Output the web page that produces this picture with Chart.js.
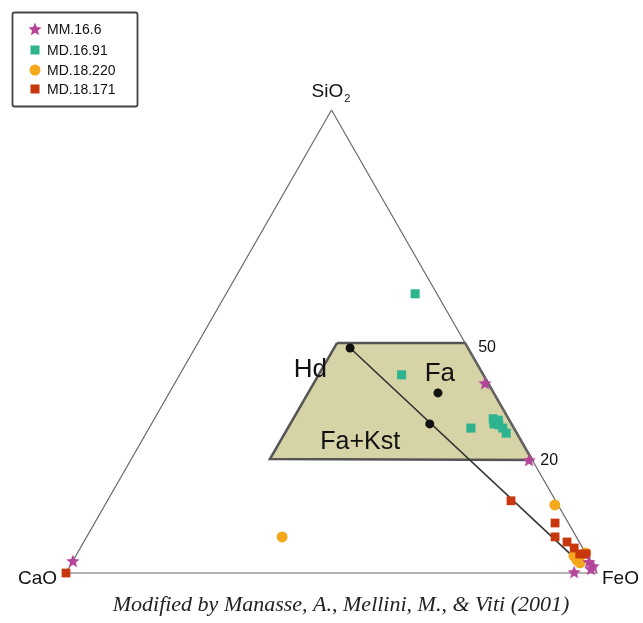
<!DOCTYPE html>
<html>
<head>
<meta charset="utf-8">
<script src="https://cdn.jsdelivr.net/npm/chart.js@4.4.0/dist/chart.umd.min.js"></script>
<style>
  html, body { margin: 0; padding: 0; background: #fff; }
  #wrap { position: relative; width: 643px; height: 623px; }
</style>
</head>
<body>
<div id="wrap"><canvas id="ternary"></canvas></div>
<script>
// compositions as [SiO2, CaO, FeO] (%)
const mm166 = [[41.0, 0.6, 58.4], [24.4, 0.6, 75.0], [2.6, 97.4, 0], [0.2, 4.2, 95.6],
               [2.4, 0.3, 97.3], [0.9, 0.7, 98.4], [1.5, 0, 98.5]];
const md1691 = [[60.3, 4.1, 35.6], [42.8, 15.4, 41.8], [31.3, 8.1, 60.6], [33.3, 2.9, 63.8],
                [33.0, 2.1, 64.9], [32.0, 2.5, 65.5], [31.3, 2.1, 66.6], [30.2, 2.0, 67.8], [32.2, 3.3, 64.5]];
const md18220 = [[7.8, 55.4, 36.8], [14.7, 0.6, 84.7], [3.7, 2.5, 93.8], [2.2, 2.1, 95.7],
                 [4.3, 0, 95.7], [2.8, 2.4, 94.8]];
const md18171 = [[0, 100, 0], [15.6, 8.4, 76.0], [10.8, 2.5, 86.7], [7.8, 4.0, 88.2], [6.7, 2.3, 91.0],
                 [5.4, 1.6, 93.0], [4.1, 1.2, 94.7], [4.1, 0.2, 95.7], [4.1, 0, 95.9]];
// Hd, Fa and the Fa+Kst point on the join
const refPoints = [[48.6, 22.2, 29.2], [38.9, 10.5, 50.6], [32.2, 15.4, 52.4]];
const joinLine = [[48.6, 22.2, 29.2], [2.8, 2.4, 94.8]];
const fieldShape = [[49.7, 24.1, 26.2], [49.7, 0, 50.3], [24.4, 0, 75.6], [24.6, 49.3, 26.1], [49.7, 24.1, 26.2]];
const vertices = [[100, 0, 0], [0, 100, 0], [0, 0, 100], [100, 0, 0]];
const seriesNames = ['MM.16.6', 'MD.16.91', 'MD.18.220', 'MD.18.171'];

// ternary -> cartesian (CaO left, FeO right, SiO2 top)
function toXY(c) {
    return { x: c[2] + c[0] / 2, y: c[0] * Math.sqrt(3) / 2 };
}

const colors = { mm: '#b5459b', md91: '#2db38e', md220: '#f5a81c', md171: '#c8370d' };

function makeStar(size, color) {
    const c = document.createElement('canvas');
    c.width = c.height = size;
    const g = c.getContext('2d');
    const R = size / 2, r = R * 0.45;
    g.beginPath();
    for (let i = 0; i < 10; i++) {
        const a = -Math.PI / 2 + i * Math.PI / 5;
        const rad = i % 2 ? r : R;
        g.lineTo(R + rad * Math.cos(a), R + 0.6 + rad * Math.sin(a));
    }
    g.closePath();
    g.fillStyle = color;
    g.fill();
    return c;
}
const starImg = makeStar(14, colors.mm);

// annotations, text + labels drawn on top
const annotations = {
    id: 'annotations',
    afterDraw(chart) {
        const ctx = chart.ctx;
        const sx = chart.scales.x, sy = chart.scales.y;
        const px = c => { const p = toXY(c); return [sx.getPixelForValue(p.x), sy.getPixelForValue(p.y)]; };
        ctx.save();
        ctx.fillStyle = '#111';
        ctx.textBaseline = 'middle';

        // vertex labels
        const top = px(vertices[0]), left = px(vertices[1]), right = px(vertices[2]);
        ctx.font = '19px "Liberation Sans", Arial, sans-serif';
        const w1 = ctx.measureText('SiO').width;
        ctx.font = '11px "Liberation Sans", Arial, sans-serif';
        const w2 = ctx.measureText('2').width;
        let tx = top[0] - (w1 + w2) / 2 - 1;
        ctx.textAlign = 'left';
        ctx.font = '19px "Liberation Sans", Arial, sans-serif';
        ctx.fillText('SiO', tx, top[1] - 18);
        ctx.font = '11px "Liberation Sans", Arial, sans-serif';
        ctx.fillText('2', tx + w1 + 1, top[1] - 11);

        ctx.font = '19px "Liberation Sans", Arial, sans-serif';
        ctx.textAlign = 'right';
        ctx.fillText('CaO', left[0] - 9, left[1] + 6);
        ctx.textAlign = 'left';
        ctx.fillText('FeO', right[0] + 5, right[1] + 6);

        // field labels
        ctx.textAlign = 'center';
        ctx.font = '26px "Liberation Sans", Arial, sans-serif';
        const lab = (t, x, y) => ctx.fillText(t, sx.getPixelForValue(x), sy.getPixelForValue(y));
        lab('Hd', 46.0, 38.0);
        lab('Fa', 70.4, 37.2);
        ctx.font = '25px "Liberation Sans", Arial, sans-serif';
        lab('Fa+Kst', 55.4, 24.4);
        ctx.font = '16px "Liberation Sans", Arial, sans-serif';
        lab('50', 79.3, 42.1);
        lab('20', 91.0, 21.1);

        // caption
        ctx.font = 'italic 22px "Liberation Serif", "Times New Roman", serif';
        ctx.fillStyle = '#222';
        ctx.fillText('Modified by Manasse, A., Mellini, M., & Viti (2001)', 341, 605);

        // legend
        ctx.strokeStyle = '#444';
        ctx.lineWidth = 1.8;
        ctx.beginPath();
        ctx.roundRect(12.5, 12.5, 125, 94, 2);
        ctx.stroke();
        const rows = [29, 50, 70, 89];
        ctx.font = '14px "Liberation Sans", Arial, sans-serif';
        ctx.textAlign = 'left';
        rows.forEach((y, i) => {
            const mx = 35;
            if (i === 0) {
                ctx.drawImage(starImg, mx - 7, y - 7);
            } else if (i === 2) {
                ctx.fillStyle = colors.md220;
                ctx.beginPath(); ctx.arc(mx, y, 5.5, 0, Math.PI * 2); ctx.fill();
            } else {
                ctx.fillStyle = i === 1 ? colors.md91 : colors.md171;
                ctx.fillRect(mx - 4.5, y - 4.5, 9, 9);
            }
            ctx.fillStyle = '#111';
            ctx.fillText(seriesNames[i], 47, y + 1);
        });
        ctx.restore();
    }
};

const ctx = document.getElementById('ternary').getContext('2d');
new Chart(ctx, {
    type: 'scatter',
    data: {
        datasets: [
            { label: seriesNames[0], data: mm166.map(toXY), pointStyle: starImg, order: 0 },
            { label: seriesNames[3], data: md18171.map(toXY), pointStyle: 'rect', pointRadius: 6.2,
              backgroundColor: colors.md171, borderWidth: 0, order: 1 },
            { label: seriesNames[2], data: md18220.map(toXY), pointStyle: 'circle', pointRadius: 5.5,
              backgroundColor: colors.md220, borderWidth: 0, order: 2 },
            { label: seriesNames[1], data: md1691.map(toXY), pointStyle: 'rect', pointRadius: 6.4,
              backgroundColor: colors.md91, borderWidth: 0, order: 3 },
            { label: 'ref', data: refPoints.map(toXY), pointStyle: 'circle', pointRadius: 4.5,
              backgroundColor: '#111', borderWidth: 0, order: 4 },
            { type: 'line', label: 'join', data: joinLine.map(toXY), borderColor: '#333', borderWidth: 1.6,
              pointRadius: 0, fill: false, order: 5 },
            { type: 'line', label: 'triangle', data: vertices.map(toXY), borderColor: '#6a6a6a', borderWidth: 1.2,
              pointRadius: 0, fill: false, order: 6 },
            { type: 'line', label: 'field', data: fieldShape.map(toXY), borderColor: '#555', borderWidth: 2.5,
              backgroundColor: '#d6d3a7', pointRadius: 0, fill: 'shape', order: 7 }
        ]
    },
    options: {
        responsive: true,
        maintainAspectRatio: false,
        animation: false,
        layout: { padding: 0, autoPadding: false },
        scales: {
            x: { type: 'linear', min: -12.43, max: 108.66, display: false },
            y: { type: 'linear', min: -9.35, max: 107.17, display: false }
        },
        plugins: {
            legend: { display: false },
            tooltip: { enabled: false }
        }
    },
    plugins: [annotations]
});
</script>
</body>
</html>
